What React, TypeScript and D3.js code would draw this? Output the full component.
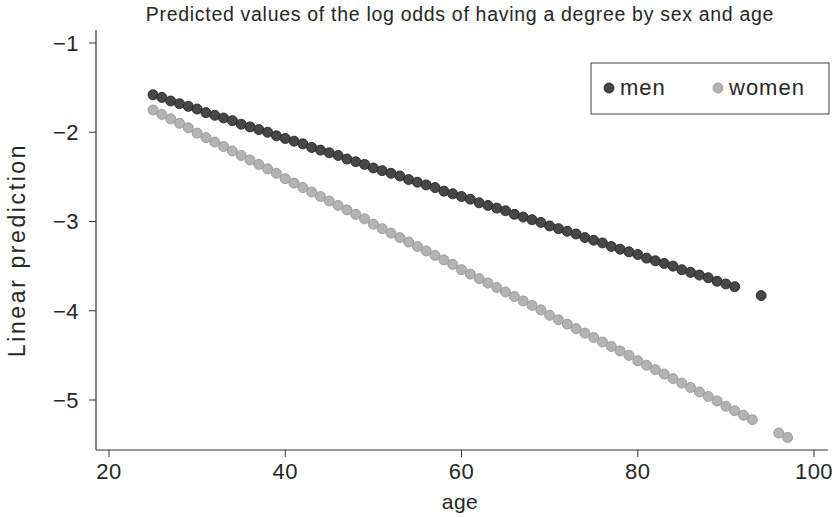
import React from "react";
import * as d3 from "d3";

// Linear predictions of the log odds of having a degree, by age
const menAges: number[] = [
  25, 26, 27, 28, 29, 30, 31, 32, 33, 34, 35, 36, 37, 38, 39, 40, 41, 42, 43, 44,
  45, 46, 47, 48, 49, 50, 51, 52, 53, 54, 55, 56, 57, 58, 59, 60, 61, 62, 63, 64,
  65, 66, 67, 68, 69, 70, 71, 72, 73, 74, 75, 76, 77, 78, 79, 80, 81, 82, 83, 84,
  85, 86, 87, 88, 89, 90, 91, 94,
];
const menValues: number[] = [
  -1.58, -1.61, -1.65, -1.68, -1.71, -1.74, -1.78, -1.81, -1.84, -1.87,
  -1.91, -1.94, -1.97, -2.0, -2.04, -2.07, -2.1, -2.13, -2.17, -2.2,
  -2.23, -2.26, -2.3, -2.33, -2.36, -2.4, -2.43, -2.46, -2.49, -2.53,
  -2.56, -2.59, -2.62, -2.66, -2.69, -2.72, -2.75, -2.79, -2.82, -2.85,
  -2.88, -2.92, -2.95, -2.98, -3.01, -3.05, -3.08, -3.11, -3.14, -3.18,
  -3.21, -3.24, -3.28, -3.31, -3.34, -3.37, -3.41, -3.44, -3.47, -3.5,
  -3.54, -3.57, -3.6, -3.63, -3.67, -3.7, -3.73, -3.83,
];

const womenAges: number[] = [
  25, 26, 27, 28, 29, 30, 31, 32, 33, 34, 35, 36, 37, 38, 39, 40, 41, 42, 43, 44,
  45, 46, 47, 48, 49, 50, 51, 52, 53, 54, 55, 56, 57, 58, 59, 60, 61, 62, 63, 64,
  65, 66, 67, 68, 69, 70, 71, 72, 73, 74, 75, 76, 77, 78, 79, 80, 81, 82, 83, 84,
  85, 86, 87, 88, 89, 90, 91, 92, 93, 96, 97,
];
const womenValues: number[] = [
  -1.75, -1.8, -1.85, -1.9, -1.95, -2.01, -2.06, -2.11, -2.16, -2.21,
  -2.26, -2.31, -2.36, -2.41, -2.46, -2.52, -2.57, -2.62, -2.67, -2.72,
  -2.77, -2.82, -2.87, -2.92, -2.97, -3.03, -3.08, -3.13, -3.18, -3.23,
  -3.28, -3.33, -3.38, -3.43, -3.48, -3.54, -3.59, -3.64, -3.69, -3.74,
  -3.79, -3.84, -3.89, -3.94, -3.99, -4.05, -4.1, -4.15, -4.2, -4.25,
  -4.3, -4.35, -4.4, -4.45, -4.5, -4.56, -4.61, -4.66, -4.71, -4.76,
  -4.81, -4.86, -4.91, -4.96, -5.01, -5.07, -5.12, -5.17, -5.22, -5.37,
  -5.42,
];

const xTicks: number[] = [20, 40, 60, 80, 100];
const yTicks: number[] = [-1, -2, -3, -4, -5];

const seriesNames: string[] = ["men", "women"];
const seriesFill: string[] = ["#474747", "#b3b3b3"];
const seriesStroke: string[] = ["#262626", "#969696"];

const titleText = "Predicted values of the log odds of having a degree by sex and age";
const xTitle = "age";
const yTitle = "Linear prediction";

const FONT = "'Liberation Sans', Arial, Helvetica, sans-serif";
const W = 838;
const H = 517;

// plot frame
const frame = { left: 96, right: 828, top: 30, bottom: 450 };

const fmt = (v: number) => (v < 0 ? "\u2212" + Math.abs(v) : String(v));

export default function App() {
  const x = d3.scaleLinear().domain([20, 100]).range([109, 814]);
  const y = d3.scaleLinear().domain([-1, -5]).range([43, 400]);

  const series = [
    { ages: menAges, values: menValues },
    { ages: womenAges, values: womenValues },
  ];

  const r = 5;
  const axisColor = "#333";
  const textColor = "#262626";

  return (
    <svg
      width={W}
      height={H}
      style={{ position: "absolute", left: 0, top: 0, background: "#fff" }}
      fontFamily={FONT}
    >
      <rect width={W} height={H} fill="#fff" />
      <text x={460} y={21} textAnchor="middle" fontSize={19.5} fill={textColor} letterSpacing={0.7}>
        {titleText}
      </text>

      {/* axes */}
      <line x1={frame.left} x2={frame.left} y1={frame.top} y2={frame.bottom} stroke={axisColor} strokeWidth={1.2} />
      <line x1={frame.left} x2={frame.right} y1={frame.bottom} y2={frame.bottom} stroke={axisColor} strokeWidth={1.2} />

      {yTicks.map((t) => (
        <g key={"y" + t}>
          <line x1={frame.left - 7} x2={frame.left} y1={y(t)} y2={y(t)} stroke={axisColor} strokeWidth={1} />
          <text x={frame.left - 17} y={y(t)} dy="0.36em" textAnchor="end" fontSize={22} fill={textColor} letterSpacing={0.5}>
            {fmt(t)}
          </text>
        </g>
      ))}
      {xTicks.map((t) => (
        <g key={"x" + t}>
          <line x1={x(t)} x2={x(t)} y1={frame.bottom} y2={frame.bottom + 7} stroke={axisColor} strokeWidth={1} />
          <text x={x(t)} y={479} textAnchor="middle" fontSize={22} fill={textColor} letterSpacing={0.5}>
            {fmt(t)}
          </text>
        </g>
      ))}

      <text x={460} y={509} textAnchor="middle" fontSize={21} fill={textColor} letterSpacing={0.5}>
        {xTitle}
      </text>
      <text
        transform={`translate(25,${250}) rotate(-90)`}
        textAnchor="middle"
        fontSize={23}
        fill={textColor}
        letterSpacing={2.6}
      >
        {yTitle}
      </text>

      {/* markers */}
      {series.map((s, si) => (
        <g key={"s" + si}>
          {s.ages.map((a, i) => (
            <circle
              key={i}
              cx={x(a)}
              cy={y(s.values[i])}
              r={r}
              fill={seriesFill[si]}
              stroke={seriesStroke[si]}
              strokeWidth={0.9}
            />
          ))}
        </g>
      ))}

      {/* legend */}
      <rect x={591} y={63} width={238} height={51} fill="#fff" stroke="#444" strokeWidth={1} />
      {seriesNames.map((n, i) => {
        const cx = i === 0 ? 609 : 718;
        return (
          <g key={n}>
            <circle cx={cx} cy={88} r={r} fill={seriesFill[i]} stroke={seriesStroke[i]} strokeWidth={0.9} />
            <text x={cx + 11} y={88} dy="0.33em" fontSize={22} fill={textColor} letterSpacing={1}>
              {n}
            </text>
          </g>
        );
      })}
    </svg>
  );
}
